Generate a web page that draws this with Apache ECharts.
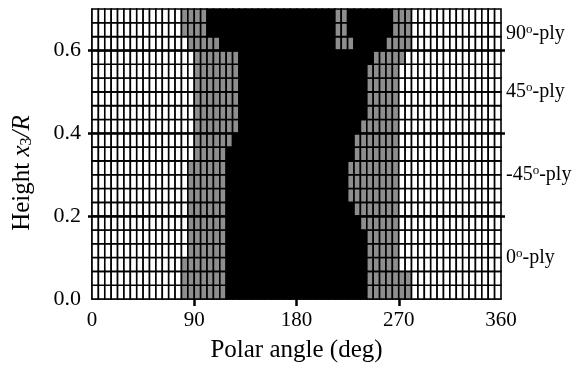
<!DOCTYPE html>
<html>
<head>
<meta charset="utf-8">
<script src="https://cdn.jsdelivr.net/npm/echarts@6/dist/echarts.min.js"></script>
<style>
  html, body { margin: 0; padding: 0; background: #fff; }
  #chart { width: 573px; height: 368px; }
</style>
</head>
<body>
<div id="chart"></div>
<script>
// Discretisation of the shell wall: polar angle x height
const angleMin = 0;
const angleMax = 360;
const angleCells = 64;
const heightMin = 0;
const heightMax = 0.7;
const heightCells = 21;

const xTickValues = [0, 90, 180, 270, 360];
const yTickInterval = 0.2;
const plyBoundaries = [0.2, 0.4, 0.6];

// Ply names and the height where each name is written
const plyNames = ['0', '-45', '45', '90'];
const plyLabelHeights = [0.1, 0.3, 0.5, 0.64];

// Cell state per row as run lengths [count, state], bottom row first.
// state 0 = intact, 1 = partially damaged, 2 = failed
const rowRuns = [
  [[14, 0], [7, 1], [22, 2], [7, 1], [14, 0]],
  [[14, 0], [7, 1], [22, 2], [7, 1], [14, 0]],
  [[14, 0], [7, 1], [22, 2], [5, 1], [16, 0]],
  [[15, 0], [6, 1], [22, 2], [5, 1], [16, 0]],
  [[15, 0], [6, 1], [22, 2], [5, 1], [16, 0]],
  [[15, 0], [6, 1], [21, 2], [6, 1], [16, 0]],
  [[15, 0], [6, 1], [20, 2], [7, 1], [16, 0]],
  [[15, 0], [6, 1], [19, 2], [8, 1], [16, 0]],
  [[15, 0], [6, 1], [19, 2], [8, 1], [16, 0]],
  [[15, 0], [6, 1], [19, 2], [8, 1], [16, 0]],
  [[16, 0], [5, 1], [20, 2], [7, 1], [16, 0]],
  [[16, 0], [6, 1], [19, 2], [7, 1], [16, 0]],
  [[16, 0], [7, 1], [19, 2], [6, 1], [16, 0]],
  [[16, 0], [7, 1], [20, 2], [5, 1], [16, 0]],
  [[16, 0], [7, 1], [20, 2], [5, 1], [16, 0]],
  [[16, 0], [7, 1], [20, 2], [5, 1], [16, 0]],
  [[16, 0], [7, 1], [20, 2], [5, 1], [16, 0]],
  [[16, 0], [7, 1], [21, 2], [5, 1], [15, 0]],
  [[15, 0], [5, 1], [18, 2], [3, 1], [5, 2], [4, 1], [14, 0]],
  [[14, 0], [4, 1], [20, 2], [2, 1], [7, 2], [3, 1], [14, 0]],
  [[14, 0], [4, 1], [20, 2], [2, 1], [7, 2], [3, 1], [14, 0]]
];

const stateColors = ['#ffffff', '#8e8e8e', '#000000'];

// Expand the run lengths into one item per cell: [column, row, state]
const cells = [];
rowRuns.forEach(function (runs, row) {
  let col = 0;
  runs.forEach(function (run) {
    for (let k = 0; k < run[0]; k++) {
      cells.push([col, row, run[1]]);
      col++;
    }
  });
});

const dAngle = (angleMax - angleMin) / angleCells;
const dHeight = (heightMax - heightMin) / heightCells;
const serif = 'Liberation Serif';

const chart = echarts.init(document.getElementById('chart'), null, { renderer: 'canvas' });

chart.setOption({
  animation: false,
  backgroundColor: '#ffffff',
  grid: { left: 92, right: 72, top: 9, bottom: 69 },
  xAxis: {
    type: 'value',
    min: angleMin,
    max: angleMax,
    interval: 90,
    name: 'Polar angle (deg)',
    nameLocation: 'middle',
    nameGap: 39,
    nameTextStyle: { fontFamily: serif, fontSize: 25, color: '#000' },
    axisLine: { show: true, lineStyle: { color: '#000', width: 1.5 } },
    axisTick: {
      show: true, inside: false, length: 7, customValues: [90, 180, 270],
      lineStyle: { color: '#000', width: 2.5 }
    },
    axisLabel: { fontFamily: serif, fontSize: 21, color: '#000', margin: 11, customValues: xTickValues },
    splitLine: { show: false }
  },
  yAxis: [{
    type: 'value',
    min: heightMin,
    max: heightMax,
    interval: yTickInterval,
    name: 'Height {i|x}{sub|3}{i|/R}',
    nameLocation: 'middle',
    nameGap: 57,
    nameRotate: 90,
    nameTextStyle: {
      fontFamily: serif, fontSize: 25, color: '#000',
      padding: [0, 38, 0, 0],
      rich: {
        i: { fontFamily: serif, fontSize: 25, fontStyle: 'italic', color: '#000' },
        sub: { fontFamily: serif, fontSize: 16, color: '#000', verticalAlign: 'bottom', padding: [7, 0, 0, 0] }
      }
    },
    axisLine: { show: true, lineStyle: { color: '#000', width: 1.5 } },
    axisTick: {
      show: true, inside: false, length: 4, customValues: plyBoundaries,
      lineStyle: { color: '#000', width: 2.5 }
    },
    axisLabel: {
      fontFamily: serif, fontSize: 22, color: '#000', margin: 11,
      showMaxLabel: false,
      formatter: function (v) { return v.toFixed(1); }
    },
    splitLine: { show: false }
  }, {
    type: 'value',
    position: 'right',
    min: heightMin,
    max: heightMax,
    interval: yTickInterval,
    axisLine: { show: false },
    axisTick: {
      show: true, inside: false, length: 4, customValues: plyBoundaries,
      lineStyle: { color: '#000', width: 2.5 }
    },
    axisLabel: { show: false },
    splitLine: { show: false }
  }],
  series: [{
    type: 'custom',
    coordinateSystem: 'cartesian2d',
    silent: true,
    data: cells,
    renderItem: function (params, api) {
      const col = api.value(0);
      const row = api.value(1);
      const state = api.value(2);
      const p0 = api.coord([angleMin + col * dAngle, heightMin + row * dHeight]);
      const p1 = api.coord([angleMin + (col + 1) * dAngle, heightMin + (row + 1) * dHeight]);
      return {
        type: 'rect',
        shape: { x: p0[0], y: p1[1], width: p1[0] - p0[0], height: p0[1] - p1[1] },
        style: { fill: stateColors[state], stroke: '#000', lineWidth: 1.6 }
      };
    },
    markLine: {
      silent: true,
      symbol: ['none', 'none'],
      label: { show: false },
      lineStyle: { color: '#000', width: 2.6, type: 'solid' },
      data: plyBoundaries.map(function (h) { return { yAxis: h }; })
    },
    z: 2
  }]
});

// Ply names written to the right of the plot
const plyTexts = plyNames.map(function (name, i) {
  const p = chart.convertToPixel({ gridIndex: 0 }, [angleMax, plyLabelHeights[i]]);
  return {
    type: 'text',
    x: p[0] + 5,
    y: p[1],
    style: {
      text: name + '{sup|o}-ply',
      fontFamily: serif,
      fontSize: 20,
      fill: '#000',
      verticalAlign: 'middle',
      align: 'left',
      rich: {
        sup: { fontFamily: serif, fontSize: 13, fill: '#000', verticalAlign: 'top', padding: [0, 0, 8, 0] }
      }
    }
  };
});
chart.setOption({ graphic: plyTexts });
</script>
</body>
</html>
